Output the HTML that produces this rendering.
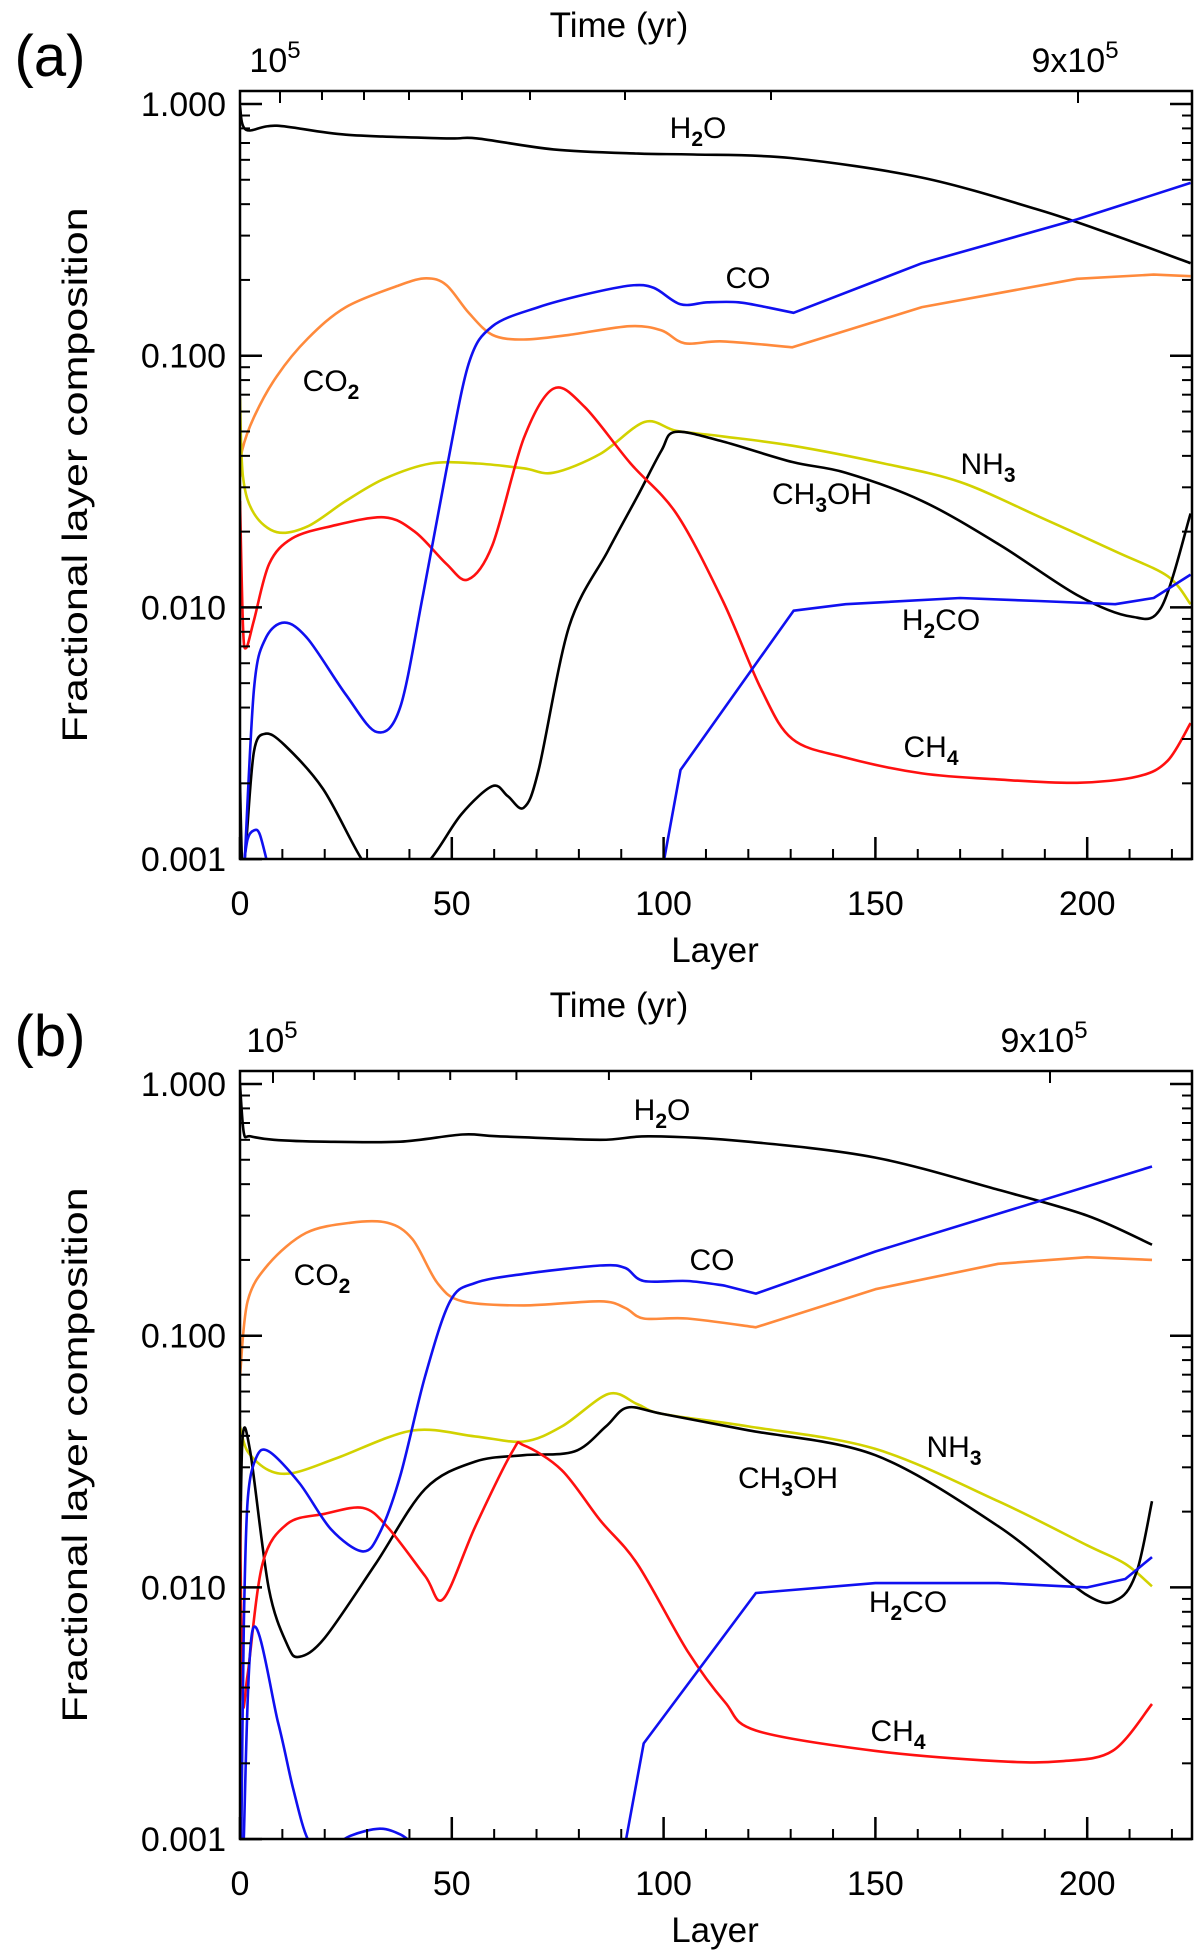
<!DOCTYPE html>
<html><head><meta charset="utf-8"><style>
html,body{margin:0;padding:0;background:#fff;}
svg{display:block;font-family:"Liberation Sans",sans-serif;}
</style></head><body>
<svg id="fig" width="1200" height="1957" viewBox="0 0 1200 1957" xmlns="http://www.w3.org/2000/svg"></svg>
<script>
// ---- data (layer, fractional composition) ----
const panelLabels = ["(a)", "(b)"];
const yTickValues = [1, 0.1, 0.01, 0.001];
const yTickLabels = ["1.000", "0.100", "0.010", "0.001"];
const xTickValues = [0, 50, 100, 150, 200];
const xTickLabels = ["0", "50", "100", "150", "200"];

// Panel (a)
const a_H2O = [[0,0.98],[1.45,0.79],[8.7,0.82],[25,0.755],[48.7,0.73],[56,0.73],[74,0.66],[94,0.635],[107,0.63],[130,0.61],[161,0.51],[188.5,0.38],[206.6,0.30],[224.4,0.233]];
const a_CO = [[1.1,0.00098],[3.3,0.00475],[6,0.0075],[10.5,0.0087],[16,0.0075],[25,0.0045],[32.3,0.0032],[37.8,0.004],[43.2,0.0112],[48.7,0.035],[54,0.093],[59.6,0.131],[70.5,0.156],[81.4,0.175],[92.2,0.19],[97.7,0.186],[104,0.16],[110.4,0.163],[117.7,0.163],[125,0.155],[130.7,0.148],[161,0.233],[197.6,0.348],[224.4,0.486]];
const a_COb = [[0.7,0.0009],[1.8,0.0012],[3.3,0.0013],[4.7,0.00125],[6.9,0.0009]];
const a_H2CO = [[99.9,0.00095],[104,0.00226],[130.7,0.0097],[143,0.0103],[170,0.0109],[188.5,0.0106],[206.6,0.0103],[215.7,0.0109],[224.4,0.0135]];
const a_CH4 = [[0,0.0265],[0.7,0.0084],[1.45,0.0069],[3.3,0.0089],[6.9,0.0149],[12.3,0.0188],[21.4,0.021],[34,0.0228],[41.4,0.0199],[48.7,0.0149],[53.8,0.0129],[59.6,0.0177],[67,0.047],[74,0.074],[81.4,0.0625],[92.2,0.0373],[103,0.0236],[114,0.0106],[123,0.00475],[130.4,0.003],[143,0.00253],[161,0.00219],[179.4,0.00207],[197.6,0.00201],[212,0.00213],[219,0.00246],[224.4,0.00347]];
const a_CO2 = [[0,0.033],[0.5,0.042],[3.3,0.057],[8.7,0.083],[16,0.117],[25,0.156],[37.8,0.191],[44,0.203],[48.7,0.191],[54,0.148],[59.6,0.121],[67,0.116],[77.7,0.121],[92,0.131],[99.5,0.126],[105,0.112],[114,0.114],[130.4,0.108],[161,0.156],[197.6,0.202],[215.7,0.21],[224.4,0.207]];
const a_NH3 = [[0,0.068],[0.7,0.033],[3.3,0.0236],[8.7,0.0199],[16,0.021],[25,0.0265],[34,0.0324],[45,0.0373],[56,0.0373],[67,0.0357],[74,0.0343],[85,0.0407],[95.5,0.0545],[103,0.0503],[114,0.0478],[130.4,0.0439],[152,0.0373],[170,0.0315],[188.5,0.023],[206.6,0.0167],[219,0.0133],[224.4,0.0103]];
const a_CH3OH = [[0,0.002],[0.6,0.0009],[1.5,0.0012],[3.3,0.00268],[6,0.00315],[10.5,0.00284],[19.6,0.0019],[28.7,0.001],[36,0.0007],[45,0.001],[52.3,0.00151],[59.6,0.00195],[63.2,0.00178],[67,0.0016],[70.5,0.00226],[77.7,0.0084],[86.8,0.0167],[94,0.028],[99.5,0.042],[102.8,0.0498],[114,0.0456],[130.4,0.0378],[143,0.0343],[161,0.0265],[179.4,0.0177],[197.6,0.0112],[210.3,0.0092],[217.5,0.01],[224.4,0.0236]];

// Panel (b)
const b_H2O = [[0,1.0],[0.9,0.64],[2.4,0.62],[8,0.6],[20,0.59],[37.8,0.59],[52.5,0.63],[61,0.62],[85,0.6],[96.8,0.62],[120,0.59],[150,0.51],[179,0.38],[200,0.30],[215.3,0.23]];
const b_CO = [[0.3,0.001],[0.9,0.007],[1.8,0.022],[3.8,0.0327],[6.8,0.0347],[14,0.026],[21.5,0.017],[29,0.0139],[33,0.0165],[37.8,0.0276],[43.7,0.069],[49.6,0.137],[55.5,0.162],[67,0.176],[85,0.19],[90.9,0.186],[95.3,0.165],[105.6,0.165],[114.5,0.158],[121.8,0.147],[150,0.216],[179,0.305],[215.3,0.47]];
const b_COb = [[0.8,0.0009],[3,0.0068],[9,0.0029],[12.5,0.0016],[16,0.001],[20,0.0009],[26,0.00103],[33,0.0011],[38,0.00104],[41,0.00095]];
const b_H2CO = [[90.9,0.00095],[95.3,0.0024],[121.8,0.0095],[150,0.0104],[179,0.0104],[200,0.01],[209,0.0108],[215.3,0.0132]];
const b_CH4 = [[0,0.022],[0.6,0.0037],[1.8,0.0045],[5.3,0.0124],[11.2,0.0179],[20,0.0196],[29,0.0207],[34.8,0.0174],[43.7,0.0111],[48,0.009],[55.5,0.0174],[64.3,0.0347],[67,0.0367],[76,0.0292],[85,0.0185],[93.8,0.0124],[105.6,0.0056],[114.5,0.0035],[121.8,0.0027],[150,0.00224],[179,0.00204],[194,0.00204],[206,0.00224],[215.3,0.00344]];
const b_CO2 = [[0,0.069],[1.8,0.137],[6.8,0.193],[15.6,0.256],[26,0.281],[34.8,0.281],[40.7,0.242],[46.6,0.162],[52.5,0.137],[67,0.132],[85,0.137],[90.9,0.129],[95.3,0.117],[105.6,0.117],[121.8,0.108],[150,0.153],[179,0.193],[200,0.205],[215.3,0.2]];
const b_NH3 = [[0,0.0436],[1.8,0.0347],[6.8,0.0292],[12.7,0.0285],[23,0.0327],[40.7,0.042],[55.5,0.0398],[67,0.038],[76,0.0436],[87,0.0587],[93.8,0.0535],[99.7,0.0489],[120,0.0436],[150,0.0355],[179,0.022],[200,0.0147],[209,0.0124],[215.3,0.0101]];
const b_CH3OH = [[0,0.011],[0.6,0.039],[2.4,0.0347],[6.8,0.0099],[11.2,0.0059],[14,0.0053],[20,0.0063],[32,0.0124],[43.7,0.0246],[55.5,0.0316],[67,0.0335],[79,0.0347],[86.4,0.0436],[91.4,0.0518],[99.7,0.0489],[120,0.0421],[150,0.0335],[179,0.0175],[200,0.0093],[207.4,0.009],[211.8,0.0117],[215.3,0.022]];

const topTicksA = [280,322,364,409,462,530,625,771,1078];

const NS = "http://www.w3.org/2000/svg";
const svg = document.getElementById('fig');
function mk(tag, attrs, parent){const e=document.createElementNS(NS,tag);for(const k in attrs)e.setAttribute(k,attrs[k]);(parent||svg).appendChild(e);return e;}

const COL = {black:"#000", blue:"#1010f0", orange:"#ff8a3c", red:"#ff1010", yellow:"#d2d200"};

// Catmull-Rom smoothing; segments starting at index >= linIdx are straight
function smoothPath(pts, linIdx){
  const n=pts.length; if(n<2) return "";
  let d="M"+pts[0][0].toFixed(1)+","+pts[0][1].toFixed(1);
  for(let i=0;i<n-1;i++){
    const p1=pts[i],p2=pts[i+1];
    if(i>=linIdx){ d+=" L"+p2[0].toFixed(1)+","+p2[1].toFixed(1); continue; }
    const p0=pts[Math.max(0,i-1)], p3=(i+1>=linIdx)?p2:pts[Math.min(n-1,i+2)];
    const t=0.16;
    const c1x=p1[0]+(p2[0]-p0[0])*t, c1y=p1[1]+(p2[1]-p0[1])*t;
    const c2x=p2[0]-(p3[0]-p1[0])*t, c2y=p2[1]-(p3[1]-p1[1])*t;
    d+=" C"+c1x.toFixed(1)+","+c1y.toFixed(1)+" "+c2x.toFixed(1)+","+c2y.toFixed(1)+" "+p2[0].toFixed(1)+","+p2[1].toFixed(1);
  }
  return d;
}

function drawPanel(p, dy, series, labels, topTicks, topLab){
  const L=240, R=1192, T=91+dy, B=859+dy;
  const xS = v => L + v*4.236;
  const yS = v => (104+dy) + (-Math.log10(v))*251.7;
  const g = mk('g',{});
  
  
  const cid='clip'+p;
  const cp=mk('clipPath',{id:cid},g); mk('rect',{x:L,y:T,width:R-L,height:B-T},cp);
  const sg = mk('g',{'clip-path':'url(#'+cid+')'},g);
  series.forEach(s=>{
    const pts = s.data.map(d=>[xS(d[0]), yS(d[1])]);
    let li = s.data.length;
    if(s.linFrom!==undefined){ li = s.data.findIndex(d=>d[0]>=s.linFrom); if(li<0) li=s.data.length; }
    const path = mk('path',{d:smoothPath(pts,li),fill:'none',stroke:s.color,'stroke-width':2.6,'stroke-linejoin':'round'},sg);
    
    
  });
  const fr = mk('rect',{x:L,y:T,width:R-L,height:B-T,fill:'none',stroke:'#000','stroke-width':2.5},g);
  
  
  for(let dec=0;dec<3;dec++){
    for(let m=2;m<=9;m++){
      const val = m*Math.pow(10,-dec-1);
      const y=yS(val); const len=10;
      mk('line',{x1:L,y1:y,x2:L+len,y2:y,stroke:'#000','stroke-width':2},g);
      mk('line',{x1:R,y1:y,x2:R-len,y2:y,stroke:'#000','stroke-width':2},g);
    }
  }
  yTickValues.forEach((v,i)=>{
    const y=yS(v);
    mk('line',{x1:L,y1:y,x2:L+22,y2:y,stroke:'#000','stroke-width':2.5},g);
    mk('line',{x1:R,y1:y,x2:R-22,y2:y,stroke:'#000','stroke-width':2.5},g);
    const t=mk('text',{x:226,y:y+12,'text-anchor':'end','font-size':34,fill:'#000'},g);
    t.textContent=yTickLabels[i];
    
    
  });
  for(let v=10; v<=220; v+=10){
    if(v%50===0) continue;
    mk('line',{x1:xS(v),y1:B,x2:xS(v),y2:B-10,stroke:'#000','stroke-width':2},g);
  }
  xTickValues.forEach((v,i)=>{
    const x=xS(v);
    mk('line',{x1:x,y1:B,x2:x,y2:B-22,stroke:'#000','stroke-width':2.5},g);
    const t=mk('text',{x:x,y:B+56,'text-anchor':'middle','font-size':34,fill:'#000'},g);
    t.textContent=xTickLabels[i];
    
    
  });
  topTicks.forEach((x,i)=>{
    const big = (i===0||i===topTicks.length-1);
    mk('line',{x1:x,y1:T,x2:x,y2:T+(big?12:9),stroke:'#000','stroke-width':2},g);
  });
  const xt=mk('text',{x:715,y:B+103,'text-anchor':'middle','font-size':35,fill:'#000'},g);
  xt.textContent='Layer';
  
  
  const yc=(T+B)/2;
  const yt=mk('text',{x:0,y:0,'text-anchor':'middle','font-size':35,fill:'#000',transform:'translate(87,'+yc+') rotate(-90)',textLength:535,lengthAdjust:'spacingAndGlyphs'},g);
  yt.textContent='Fractional layer composition';
  
  
  const tt=mk('text',{x:619,y:37+dy,'text-anchor':'middle','font-size':35,fill:'#000'},g);
  tt.textContent='Time (yr)';
  
  
  const t1=mk('text',{x:topLab[0],y:72+dy,'text-anchor':'middle','font-size':34,fill:'#000'},g);
  t1.innerHTML='10<tspan dy="-14" font-size="24">5</tspan>';
  
  
  const t2=mk('text',{x:topLab[1],y:72+dy,'text-anchor':'middle','font-size':34,fill:'#000'},g);
  t2.innerHTML='9x10<tspan dy="-14" font-size="24">5</tspan>';
  
  
  const pl=mk('text',{x:50,y:76+dy,'text-anchor':'middle','font-size':58,fill:'#000'},g);
  pl.textContent=panelLabels[p];
  
  
  labels.forEach(l=>{
    const t=mk('text',{x:l.x,y:l.y+dy+11,'text-anchor':'middle','font-size':30,fill:'#000'},g);
    t.innerHTML=l.html;
    
    
  });
}

const sub = n => '<tspan dy="8" font-size="21" font-weight="bold">'+n+'</tspan><tspan dy="-8">';
const labelsA = [
  {x:698,y:127,html:'H'+sub(2)+'O</tspan>'},
  {x:748,y:277,html:'CO'},
  {x:331,y:380,html:'CO'+sub(2)+'</tspan>'},
  {x:988,y:463,html:'NH'+sub(3)+'</tspan>'},
  {x:822,y:493,html:'CH'+sub(3)+'OH</tspan>'},
  {x:941,y:619,html:'H'+sub(2)+'CO</tspan>'},
  {x:931,y:746,html:'CH'+sub(4)+'</tspan>'}
];
const labelsB = [
  {x:662,y:129,html:'H'+sub(2)+'O</tspan>'},
  {x:712,y:279,html:'CO'},
  {x:322,y:294,html:'CO'+sub(2)+'</tspan>'},
  {x:954,y:466,html:'NH'+sub(3)+'</tspan>'},
  {x:788,y:497,html:'CH'+sub(3)+'OH</tspan>'},
  {x:908,y:621,html:'H'+sub(2)+'CO</tspan>'},
  {x:898,y:750,html:'CH'+sub(4)+'</tspan>'}
];

drawPanel(0,0,[
  {name:'h2o-line',color:COL.black,data:a_H2O},
  {name:'co2-line',color:COL.orange,data:a_CO2,linFrom:130},
  {name:'nh3-line',color:COL.yellow,data:a_NH3},
  {name:'ch3oh-line',color:COL.black,data:a_CH3OH},
  {name:'ch4-line',color:COL.red,data:a_CH4},
  {name:'co-line',color:COL.blue,data:a_CO,linFrom:125},
  {name:'co-low-line',color:COL.blue,data:a_COb},
  {name:'h2co-line',color:COL.blue,data:a_H2CO,linFrom:99}
], labelsA, topTicksA, [275,1075]);

const topTicksB = topTicksA.map(x => 273 + (x-280)*(1050-273)/(1078-280));
drawPanel(1,980,[
  {name:'h2o-line',color:COL.black,data:b_H2O},
  {name:'co2-line',color:COL.orange,data:b_CO2,linFrom:121},
  {name:'nh3-line',color:COL.yellow,data:b_NH3},
  {name:'ch3oh-line',color:COL.black,data:b_CH3OH},
  {name:'ch4-line',color:COL.red,data:b_CH4},
  {name:'co-line',color:COL.blue,data:b_CO,linFrom:114},
  {name:'co-low-line',color:COL.blue,data:b_COb},
  {name:'h2co-line',color:COL.blue,data:b_H2CO,linFrom:90}
], labelsB, topTicksB, [272,1044]);
</script>
</body></html>
